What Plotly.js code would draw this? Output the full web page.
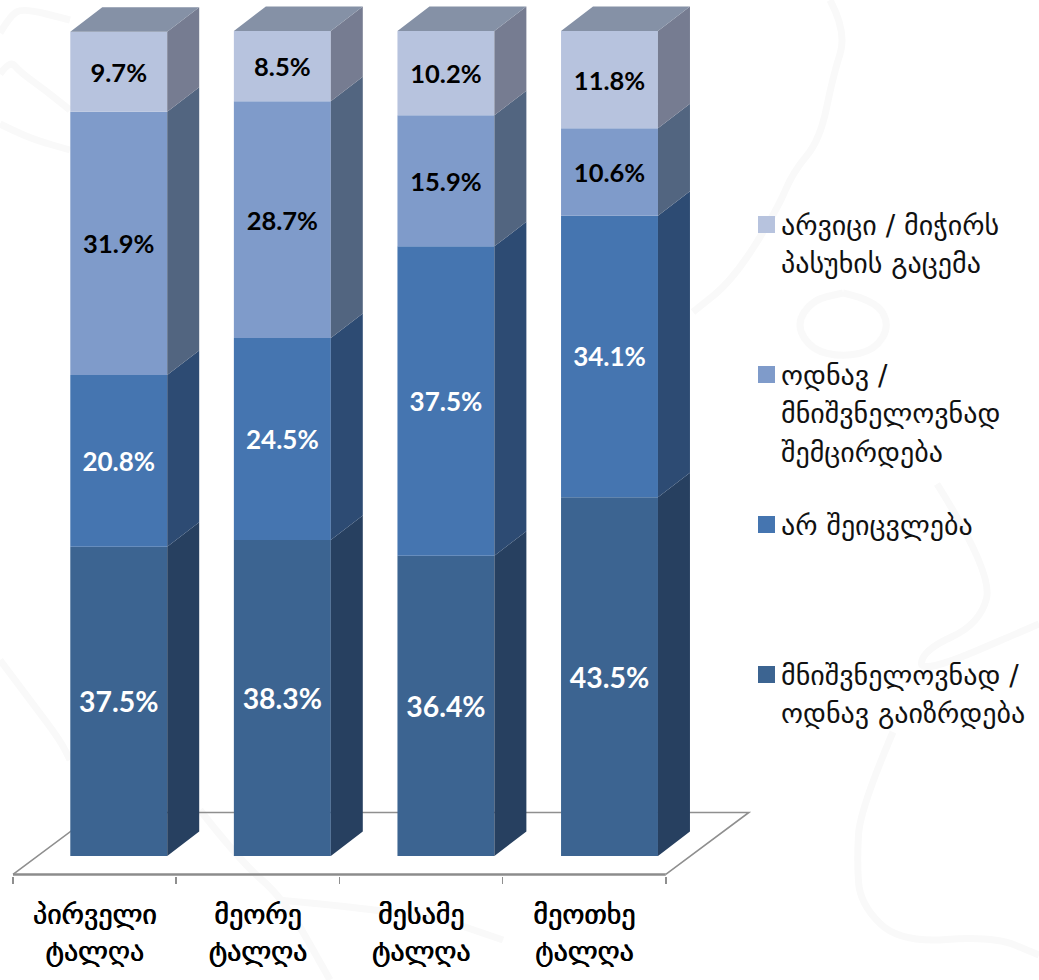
<!DOCTYPE html>
<html>
<head>
<meta charset="utf-8">
<script src="https://cdn.plot.ly/plotly-3.0.1.min.js"></script>
<style>html,body{margin:0;padding:0;background:#fff}#chart{width:1039px;height:980px}</style>
</head>
<body>
<div id="chart"></div>
<script>
// Survey waves along the horizontal axis
const waves = ['პირველი', 'მეორე', 'მესამე', 'მეოთხე'];
const waveWord = 'ტალღა';

// Shares per wave, bottom of the stack first
const increase  = [37.5, 38.3, 36.4, 43.5];
const unchanged = [20.8, 24.5, 37.5, 34.1];
const decrease  = [31.9, 28.7, 15.9, 10.6];
const noAnswer  = [9.7, 8.5, 10.2, 11.8];

// Key entries, top to bottom
const keyLabels = [
  'არვიცი / მიჭირს<br>პასუხის გაცემა',
  'ოდნავ /<br>მნიშვნელოვნად<br>შემცირდება',
  'არ შეიცვლება',
  'მნიშვნელოვნად /<br>ოდნავ გაიზრდება'
];
const keyColors = ['#b7c3de', '#7f9bca', '#4575b0', '#3c6491'];
const keyTops = [216, 366, 516, 666];

const frontColors = ['#3c6491', '#4575b0', '#7f9bca', '#b7c3de'];
const sideColors  = ['#274060', '#2d4b73', '#526580', '#767c91'];
const topColor = '#8591a6';
const valueColors = ['#ffffff', '#ffffff', '#000000', '#000000'];
const valueSizes = [28.4, 26, 25.5, 25.5];

// Projection of the pseudo-3D boxes, in axis units
const boxShift = 0.148, boxPitch = 1.0024, boxWidth = 0.594, boxDepthX = 0.196, boxDepthY = 2.97;
const floorY = -2.24, floorDepthX = 0.509, floorDepthY = 7.52;
const KEY_LINE = 29.6, LABEL_LINE = 28.8;
const W = 1039, H = 980, BOTTOM_MARGIN = 104;
const PLOT_H = H - BOTTOM_MARGIN;

// Faint map outline behind the chart, in page pixels
const mapOutline = [
  [[830,0],[847,32],[833,76],[820,140],[793,172],[777,210],[733,280],[693,312]],
  [[843,293],[875,300],[890,325],[875,350],[843,357],[812,350],[796,325],[812,300],[843,293]],
  [[937,484],[993,573],[980,624],[923,650],[920,675],[1039,624]],
  [[893,732],[860,809],[857,860],[860,904],[900,943],[993,936],[1039,955]],
  [[0,33],[10,16],[23,8],[70,20]],
  [[0,74],[10,60],[20,72],[45,90],[70,110]],
  [[0,124],[10,129],[35,140],[70,150]],
  [[0,660],[30,700],[60,740],[70,760]],
  [[200,810],[239,860],[285,900],[330,980]],
  [[278,900],[424,913],[503,940]]
];

// Page pixels to the plot-relative fractions used by paper references
const px = x => x / W;
const py = y => (PLOT_H - y) / PLOT_H;

const series = [increase, unchanged, decrease, noAnswer];
const positions = waves.map((_, i) => i * boxPitch + boxShift);
const fmt = v => v.toFixed(1) + '%';
const traces = [];
const running = waves.map(() => 0);

series.forEach((vals, s) => {
  const base = running.slice();

  // Right-hand side faces of this stack level
  const sx = [], sy = [];
  vals.forEach((v, i) => {
    const r = positions[i] + boxWidth / 2;
    const y0 = base[i], y1 = base[i] + v;
    sx.push(r, r + boxDepthX, r + boxDepthX, r, r, null);
    sy.push(y0, y0 + boxDepthY, y1 + boxDepthY, y1, y0, null);
  });
  traces.push({
    type: 'scatter', mode: 'lines', x: sx, y: sy, fill: 'toself', fillcolor: sideColors[s],
    line: {width: 0, color: sideColors[s]}, hoverinfo: 'skip', showlegend: false
  });

  // Front faces with their value labels
  traces.push({
    type: 'bar', x: positions, y: vals, base: base, width: boxWidth,
    marker: {color: frontColors[s], line: {width: 0}},
    text: vals.map(fmt), textposition: 'inside', insidetextanchor: 'middle', textangle: 0,
    constraintext: 'none', cliponaxis: false,
    textfont: {family: 'Lato, sans-serif', size: valueSizes[s], color: valueColors[s], weight: 'bold'},
    showlegend: false, hoverinfo: 'skip'
  });

  vals.forEach((v, i) => { running[i] += v; });
});

// Top faces of the boxes
const tx = [], ty = [];
positions.forEach((p, i) => {
  const l = p - boxWidth / 2, r = p + boxWidth / 2, t = running[i];
  tx.push(l, r, r + boxDepthX, l + boxDepthX, l, null);
  ty.push(t, t, t + boxDepthY, t + boxDepthY, t, null);
});
traces.push({
  type: 'scatter', mode: 'lines', x: tx, y: ty, fill: 'toself', fillcolor: topColor,
  line: {width: 0, color: topColor}, hoverinfo: 'skip', showlegend: false
});

const shapes = [];

// Map outline sits under everything else; corners are rounded through their midpoints
mapOutline.forEach(line => {
  const pts = line.map(p => [px(p[0]), py(p[1])]);
  let d = 'M' + pts[0][0] + ',' + pts[0][1];
  for (let i = 1; i < pts.length - 1; i++) {
    const mx = (pts[i][0] + pts[i + 1][0]) / 2, my = (pts[i][1] + pts[i + 1][1]) / 2;
    d += ' Q' + pts[i][0] + ',' + pts[i][1] + ' ' + mx + ',' + my;
  }
  const last = pts[pts.length - 1];
  d += ' L' + last[0] + ',' + last[1];
  shapes.push({type: 'path', xref: 'paper', yref: 'paper', layer: 'below', path: d,
    line: {color: '#f9f9f9', width: 7}});
});

// Floor the boxes stand on
const fx = [3.5, 3.5 + floorDepthX, -0.5 + floorDepthX, -0.5];
const fy = [floorY, floorY + floorDepthY, floorY + floorDepthY, floorY];
shapes.push({type: 'path', xref: 'x', yref: 'y', layer: 'below',
  path: fx.map((x, i) => (i ? 'L' : 'M') + x + ',' + fy[i]).join(' '),
  line: {color: '#8f8f8f', width: 1.6}});
shapes.push({type: 'line', xref: 'x', yref: 'y', layer: 'below',
  x0: -0.5, x1: 3.5, y0: floorY, y1: floorY, line: {color: '#8c8c8c', width: 2.6}});

// Key swatches and text
const annotations = [];
keyLabels.forEach((label, k) => {
  shapes.push({type: 'rect', xref: 'paper', yref: 'paper', layer: 'above',
    x0: px(758), x1: px(775), y0: py(keyTops[k]), y1: py(keyTops[k] + 17),
    fillcolor: keyColors[k], line: {width: 0}});
  annotations.push({
    xref: 'paper', yref: 'paper', x: px(779), y: py(keyTops[k] - 9),
    xanchor: 'left', yanchor: 'top', align: 'left', showarrow: false,
    text: `<span style="font-size:28px">${label}</span>`,
    font: {size: KEY_LINE, color: '#111111'}
  });
});

const layout = {
  width: W, height: H,
  margin: {l: 0, r: 0, t: 0, b: BOTTOM_MARGIN, autoexpand: false},
  paper_bgcolor: '#ffffff', plot_bgcolor: 'rgba(0,0,0,0)',
  barmode: 'overlay', showlegend: false, hovermode: false,
  font: {family: '"DejaVu Sans", sans-serif', color: '#111111'},
  xaxis: {
    range: [-0.5797, 5.787], showgrid: false, zeroline: false, showline: false,
    tickmode: 'array', tickvals: waves.map((_, i) => i),
    ticktext: waves.map(w => `<span style="font-size:28px">${w}<br>${waveWord}</span>`),
    ticks: '', ticklabelstandoff: 18,
    tickfont: {size: LABEL_LINE, color: '#000000', shadow: '0.7px 0 0 #000'},
    minor: {tickmode: 'array', tickvals: [-0.5, 0.5, 1.5, 2.5, 3.5], ticks: 'outside', ticklen: 7, tickwidth: 1.6, tickcolor: '#8f8f8f', showgrid: false}
  },
  yaxis: {range: [-2.424, 103.76], visible: false, fixedrange: true},
  shapes: shapes,
  annotations: annotations
};

Plotly.newPlot('chart', traces, layout, {displayModeBar: false, staticPlot: true});
</script>
</body>
</html>
